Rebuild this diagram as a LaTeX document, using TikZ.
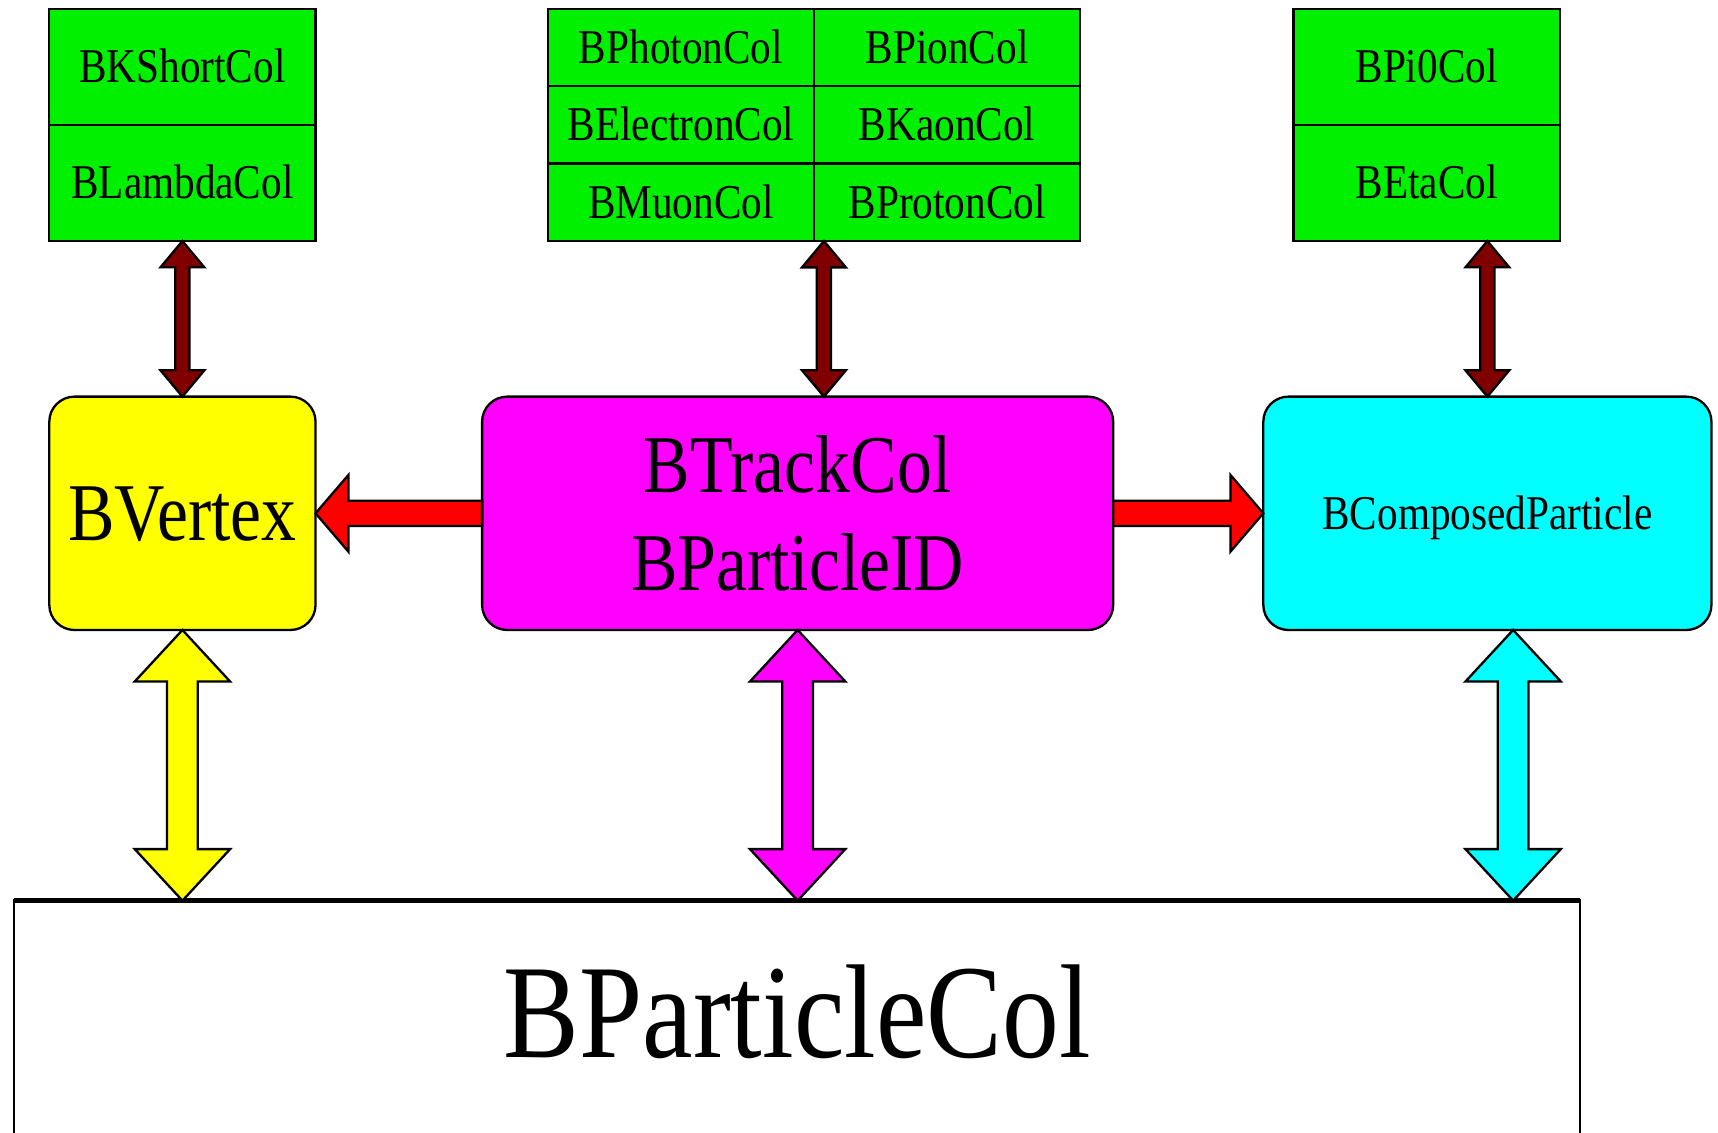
\documentclass[tikz,border=0pt]{standalone}
\usepackage{fontspec}
\setmainfont[FakeStretch=0.85]{Liberation Serif}
\usetikzlibrary{positioning,calc}

\definecolor{cellgreen}{RGB}{0,240,0}
\definecolor{darkred}{RGB}{128,0,0}
\definecolor{vtxyellow}{RGB}{255,255,0}
\definecolor{trackpink}{RGB}{255,0,255}
\definecolor{compcyan}{RGB}{0,255,255}
\definecolor{flowred}{RGB}{255,0,0}

% fat double arrow, straight down from #2 to #3
\newcommand{\bothways}[6]{%
  \draw[fill=#1, line width=0.6pt] let \p1=(#2), \p2=(#3) in
    (\x1,\y1) -- ({\x1+#5},{\y1-#6}) -- ({\x1+#4},{\y1-#6}) -- ({\x1+#4},{\y2+#6})
    -- ({\x1+#5},{\y2+#6}) -- (\x1,\y2) -- ({\x1-#5},{\y2+#6}) -- ({\x1-#4},{\y2+#6})
    -- ({\x1-#4},{\y1-#6}) -- ({\x1-#5},{\y1-#6}) -- cycle;}
% fat single arrow, sideways from #2 to #3
\newcommand{\oneway}[6]{%
  \draw[fill=#1, line width=0.6pt] let \p1=(#2), \p2=(#3), \n1={sign(\x1-\x2)} in
    (\x1,{\y1+#4}) -- ({\x2+(\n1)*#6},{\y1+#4}) -- ({\x2+(\n1)*#6},{\y1+#5}) -- (\x2,\y1)
    -- ({\x2+(\n1)*#6},{\y1-#5}) -- ({\x2+(\n1)*#6},{\y1-#4}) -- (\x1,{\y1-#4}) -- cycle;}

\begin{document}
\begin{tikzpicture}[auto,
    collection/.style={rectangle, draw, fill=cellgreen, line width=0.6pt, inner sep=0pt, outer sep=0pt,
      minimum width=2.43cm, minimum height=1.06cm, font=\fontsize{12.6}{15}\selectfont,
      text height=0.29cm, text depth=0pt},
    module/.style={rectangle, rounded corners=0.23cm, draw, line width=0.6pt, inner sep=0pt,
      outer sep=0pt, minimum height=2.13cm}]
   \useasboundingbox (0,0) rectangle (15.68,10.34);

   % particle lists
   \node[collection] (kshort) at (1.665,9.73) {BKShortCol};
   \node[collection, below=0pt of kshort] (lambda) {BLambdaCol};

   \node[collection, minimum height=0.707cm] (photon) at (6.215,9.907) {BPhotonCol};
   \node[collection, minimum height=0.707cm, right=0pt of photon] (pion) {BPionCol};
   \node[collection, minimum height=0.707cm, below=0pt of photon] (electron) {BElectronCol};
   \node[collection, minimum height=0.707cm, right=0pt of electron] (kaon) {BKaonCol};
   \node[collection, minimum height=0.707cm, below=0pt of electron] (muon) {BMuonCol};
   \node[collection, minimum height=0.707cm, right=0pt of muon] (proton) {BProtonCol};

   \node[collection] (pizero) at (13.02,9.73) {BPi0Col};
   \node[collection, below=0pt of pizero] (eta) {BEtaCol};

   % makers
   \node[module, fill=vtxyellow, minimum width=2.43cm, font=\fontsize{21.3}{25.6}\selectfont,
     text height=0.49cm, text depth=0pt] (vtx) at (1.665,5.655) {BVertex};
   \node[module, fill=trackpink, minimum width=5.76cm, align=center,
     font=\fontsize{21.3}{25.6}\selectfont] (track) at (7.28,5.655) {BTrackCol\\BParticleID};
   \node[module, fill=compcyan, minimum width=4.09cm, font=\fontsize{12.6}{15}\selectfont,
     text height=0.29cm, text depth=0pt] (comp) at (13.575,5.655) {BComposedParticle};

   \node[draw, fill=white, line width=0.6pt, inner sep=0pt, outer sep=0pt, anchor=north,
     minimum width=14.29cm, text height=1.43cm, text depth=1cm,
     font=\fontsize{34.7}{40}\selectfont] (pcol) at (7.275,2.12) {BParticleCol};
   \draw[line width=1.2pt] (pcol.north west) -- (pcol.north east);

   \coordinate (mid) at ([xshift=0.09cm]proton.south west);
   \coordinate (cyanfoot) at ([xshift=0.235cm]comp.south);

   \oneway{flowred}{track.west}{vtx.east}{0.115cm}{0.35cm}{0.30cm}
   \oneway{flowred}{track.east}{comp.west}{0.115cm}{0.35cm}{0.30cm}

   \bothways{darkred}{lambda.south}{vtx.north}{0.065cm}{0.2cm}{0.24cm}
   \bothways{darkred}{mid}{mid |- track.north}{0.065cm}{0.2cm}{0.24cm}
   \bothways{darkred}{comp.north |- eta.south}{comp.north}{0.065cm}{0.2cm}{0.24cm}

   \bothways{vtxyellow}{vtx.south}{vtx.south |- pcol.north}{0.14cm}{0.435cm}{0.47cm}
   \bothways{trackpink}{track.south}{track.south |- pcol.north}{0.14cm}{0.435cm}{0.47cm}
   \bothways{compcyan}{cyanfoot}{cyanfoot |- pcol.north}{0.14cm}{0.435cm}{0.47cm}

\end{tikzpicture}
\end{document}
